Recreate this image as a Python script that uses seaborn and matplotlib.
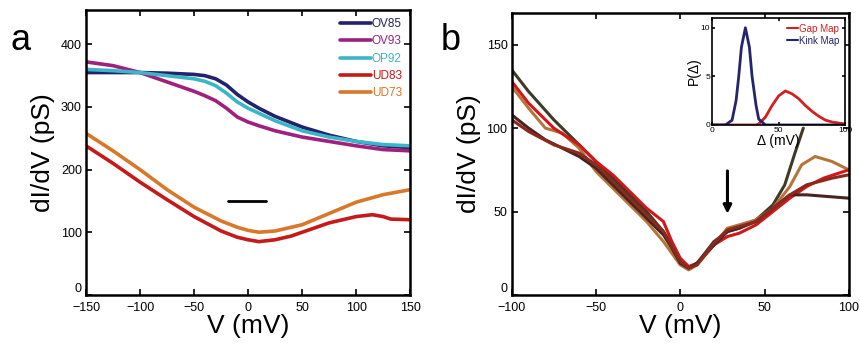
import numpy as np
import pandas as pd
import matplotlib
matplotlib.use("Agg")
import matplotlib.pyplot as plt
import seaborn as sns

# ---------------- Panel a data ----------------
a_series = ["OV85", "OV93", "OP92", "UD83", "UD73"]
a_colors = ["#23226a", "#a0207f", "#3bb5c8", "#c41a1a", "#d8782a"]

ov85_v = [-150, -125, -100, -75, -50, -40, -30, -20, -10, 0, 10, 25, 50, 75, 100, 125, 150]
ov85_g = [355, 355, 355, 354, 352, 350, 345, 335, 320, 308, 298, 285, 268, 255, 245, 238, 235]
ov93_v = [-150, -125, -100, -75, -50, -40, -30, -20, -10, 0, 10, 25, 50, 75, 100, 125, 150]
ov93_g = [372, 366, 355, 340, 325, 318, 310, 298, 284, 276, 270, 262, 252, 245, 238, 232, 230]
op92_v = [-150, -125, -100, -75, -50, -40, -30, -20, -10, 0, 10, 25, 50, 75, 100, 125, 150]
op92_g = [360, 358, 355, 350, 345, 341, 334, 322, 308, 298, 290, 278, 262, 252, 245, 240, 238]
ud83_v = [-150, -125, -100, -75, -50, -25, -10, 0, 10, 25, 40, 50, 75, 100, 115, 125, 132, 150]
ud83_g = [238, 210, 180, 152, 125, 102, 92, 88, 85, 88, 94, 100, 115, 125, 128, 125, 121, 120]
ud73_v = [-150, -125, -100, -75, -50, -25, -10, 0, 10, 25, 50, 75, 100, 125, 150]
ud73_g = [258, 230, 200, 168, 140, 118, 108, 103, 100, 102, 112, 130, 148, 160, 168]

bar_a_v = [-19, 17]
bar_a_g = [150, 150]

# ---------------- Panel b data ----------------
b_series = ["c1", "c2", "c3", "c4", "c5"]
b_colors = ["#3f3a26", "#b5753a", "#d01818", "#4a2420", "#8a2a1e"]
c1_v = [-100, -90, -75, -60, -50, -40, -30, -20, -10, -5, 0, 5, 10, 20, 28, 35, 45, 55, 62, 68, 73]
c1_g = [135, 122, 105, 90, 80, 70, 60, 50, 38, 30, 21, 16, 19, 32, 38, 40, 45, 54, 66, 85, 100]
c2_v = [-100, -90, -80, -70, -60, -50, -40, -30, -20, -10, -5, 0, 5, 10, 20, 28, 35, 45, 55, 65, 72, 80, 90, 100]
c2_g = [125, 112, 100, 97, 88, 74, 64, 54, 44, 32, 25, 18, 15, 18, 30, 40, 42, 45, 52, 65, 78, 83, 80, 75]
c3_v = [-100, -90, -75, -60, -50, -40, -30, -20, -10, -5, 0, 5, 10, 20, 28, 35, 45, 55, 65, 75, 85, 100]
c3_g = [128, 115, 100, 90, 80, 72, 62, 52, 44, 32, 22, 17, 19, 30, 35, 37, 42, 50, 58, 65, 70, 75]
c4_v = [-100, -90, -80, -70, -60, -50, -40, -30, -20, -10, -5, 0, 5, 10, 20, 28, 35, 45, 55, 65, 75, 100]
c4_g = [108, 100, 93, 88, 83, 76, 66, 56, 46, 36, 28, 19, 16, 19, 30, 38, 40, 44, 52, 60, 60, 58]
c5_v = [-100, -90, -75, -60, -50, -40, -30, -20, -10, -5, 0, 5, 10, 20, 28, 35, 45, 55, 65, 75, 90, 100]
c5_g = [105, 98, 90, 85, 78, 68, 58, 48, 38, 29, 20, 16, 18, 31, 39, 41, 44, 52, 60, 66, 70, 72]

arrow_v = [28, 28]
arrow_g = [76, 47]

# ---------------- Inset data ----------------
inset_series = ["Gap Map", "Kink Map"]
inset_colors = ["#d02020", "#25246e"]
delta = [0, 5, 10, 15, 18, 20, 22, 25, 28, 30, 33, 35, 40, 45, 50, 55, 60, 65, 70, 75, 80, 85, 90, 95, 100]
kink_p = [0, 0, 0, 0.5, 2.5, 5, 8, 10, 8, 5, 2, 0.6, 0, 0, 0, 0, 0, 0, 0, 0, 0, 0, 0, 0, 0]
gap_p = [0, 0, 0, 0, 0, 0, 0, 0, 0, 0, 0, 0.1, 0.8, 2.0, 3.0, 3.5, 3.2, 2.7, 2.0, 1.4, 0.9, 0.5, 0.3, 0.2, 0.1]

# ---------------- Build frames ----------------
def frame(pairs, names):
    parts = []
    for (v, g), n in zip(pairs, names):
        parts.append(pd.DataFrame({"V": v, "G": g, "s": n}))
    return pd.concat(parts, ignore_index=True)

df_a = frame([(ov85_v, ov85_g), (ov93_v, ov93_g), (op92_v, op92_g),
              (ud83_v, ud83_g), (ud73_v, ud73_g)], a_series)
df_b = frame([(c1_v, c1_g), (c2_v, c2_g), (c3_v, c3_g), (c4_v, c4_g), (c5_v, c5_g)], b_series)
df_in = frame([(delta, gap_p), (delta, kink_p)], inset_series)

sns.set_theme(style="ticks")
plt.rcParams["font.family"] = ["Liberation Sans", "DejaVu Sans"]
plt.rcParams["text.color"] = "black"
plt.rcParams["axes.labelcolor"] = "black"

fig = plt.figure(figsize=(8.6, 3.54), dpi=100)
ax_a = fig.add_axes([0.100, 0.167, 0.377, 0.805])
ax_b = fig.add_axes([0.595, 0.167, 0.392, 0.796])
ax_in = fig.add_axes([0.828, 0.647, 0.155, 0.302])

def style(ax, lw=1.8, size=8.5):
    for sp in ax.spines.values():
        sp.set_linewidth(lw)
        sp.set_color("black")
    ax.tick_params(direction="in", top=True, right=True, length=4, width=1.2,
                   labelsize=size, colors="black")
    ax.tick_params(axis="x", pad=5)
    ax.tick_params(axis="y", pad=3)

# Panel a
sns.lineplot(data=df_a, x="V", y="G", hue="s", hue_order=a_series,
             palette=a_colors, linewidth=2.6, sort=False, estimator=None, ax=ax_a)
sns.lineplot(x=bar_a_v, y=bar_a_g, color="black", linewidth=2, ax=ax_a)
ax_a.set_xlim(-150, 150)
ax_a.set_ylim(0, 455)
ax_a.set_xticks([-150, -100, -50, 0, 50, 100, 150])
ax_a.set_yticks([0, 100, 200, 300, 400])
ax_a.set_xlabel("V (mV)", fontsize=19, labelpad=0)
ax_a.set_ylabel("dI/dV (pS)", fontsize=19, labelpad=4)
style(ax_a, size=9)
ax_a.get_yticklabels()[0].set_verticalalignment("bottom")
leg = ax_a.legend(loc="upper right", frameon=False, fontsize=8.5, handlelength=2.6,
                  handletextpad=0.1, labelspacing=0.45, borderaxespad=0.3,
                  labelcolor="linecolor")
for ln in leg.get_lines():
    ln.set_linewidth(2.6)
fig.text(0.012, 0.86, "a", fontsize=26)

# Panel b
sns.lineplot(data=df_b, x="V", y="G", hue="s", hue_order=b_series,
             palette=b_colors, linewidth=2.2, sort=False, estimator=None,
             legend=False, ax=ax_b)
ax_b.annotate("", xy=(arrow_v[1], arrow_g[1]), xytext=(arrow_v[0], arrow_g[0]),
              arrowprops=dict(arrowstyle="-|>", color="black", lw=2.2,
                              mutation_scale=12))
ax_b.set_xlim(-100, 100)
ax_b.set_ylim(0, 169)
ax_b.set_xticks([-100, -50, 0, 50, 100])
ax_b.set_yticks([0, 50, 100, 150])
ax_b.set_xlabel("V (mV)", fontsize=19, labelpad=0)
ax_b.set_ylabel("dI/dV (pS)", fontsize=19, labelpad=4)
style(ax_b, size=9)
ax_b.get_yticklabels()[0].set_verticalalignment("bottom")
fig.text(0.512, 0.86, "b", fontsize=26)

# Inset
sns.lineplot(data=df_in, x="V", y="G", hue="s", hue_order=inset_series,
             palette=inset_colors, linewidth=2.0, sort=False, estimator=None, ax=ax_in)
ax_in.set_xlim(0, 100)
ax_in.set_ylim(0, 11)
ax_in.set_xticks([0, 50, 100])
ax_in.set_yticks([0, 5, 10])
ax_in.set_xlabel("Δ (mV)", fontsize=10, labelpad=0)
ax_in.set_ylabel("P(Δ)", fontsize=10, labelpad=0)
style(ax_in, lw=1.2, size=6)
ax_in.tick_params(length=2.5, pad=1.5)
leg2 = ax_in.legend(loc="upper right", frameon=False, fontsize=7, handlelength=1.2,
                    handletextpad=0.1, labelspacing=0.2, borderaxespad=0.2,
                    labelcolor="linecolor")
for ln in leg2.get_lines():
    ln.set_linewidth(1.5)

fig.savefig("out.png", dpi=100)
